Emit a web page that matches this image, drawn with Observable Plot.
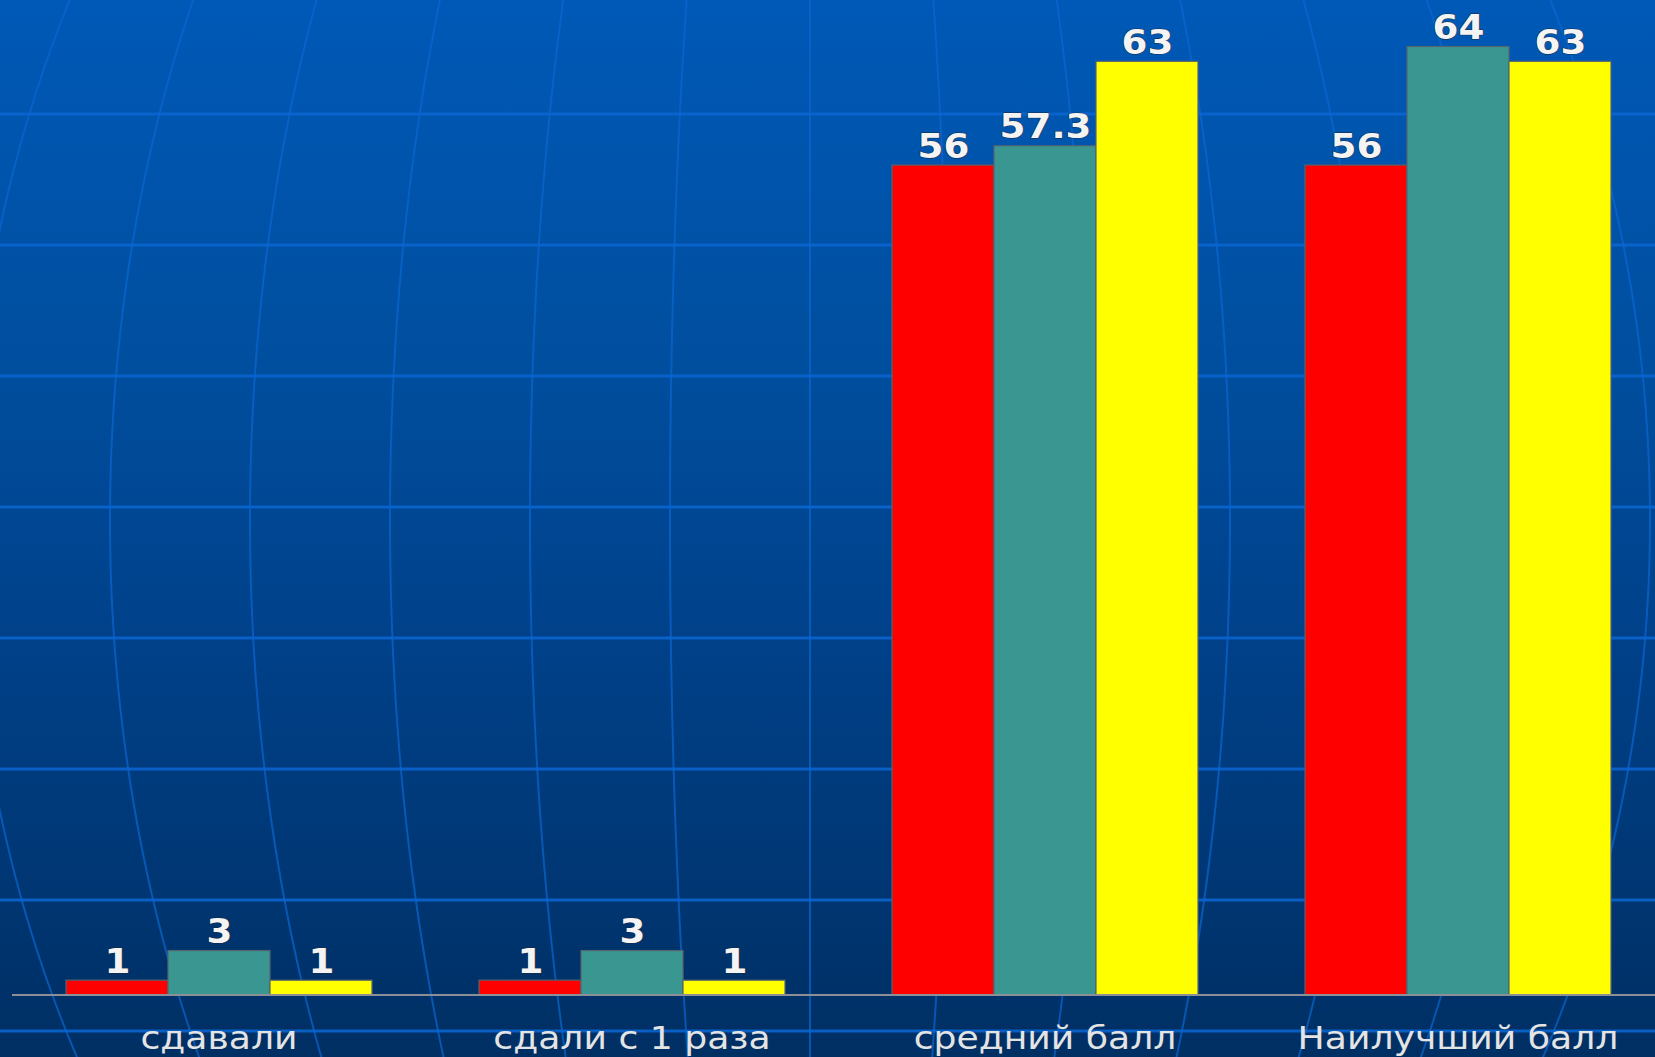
<!DOCTYPE html>
<html>
<head>
<meta charset="utf-8">
<script src="https://cdn.jsdelivr.net/npm/d3@7"></script>
<script src="https://cdn.jsdelivr.net/npm/@observablehq/plot@0.6"></script>
<style>
  html, body { margin: 0; padding: 0; }
  body { width: 1655px; height: 1057px; overflow: hidden; }
  #wrap {
    position: relative; width: 1655px; height: 1057px;
    background: linear-gradient(to bottom, #0059b7 0%, #004e9e 35%, #00418a 60%, #002f63 100%);
  }
  #bg, #chart { position: absolute; left: 0; top: 0; }
  #chart svg { display: block; overflow: visible; }
</style>
</head>
<body>
<div id="wrap">
  <svg id="bg" width="1655" height="1057"></svg>
  <div id="chart"></div>
</div>
<script>
// ---- data ----
const categories = ["сдавали", "сдали с 1 раза", "средний балл", "Наилучший балл"];
const seriesNames = ["ряд 1", "ряд 2", "ряд 3"];
const seriesColors = ["#ff0000", "#3a9690", "#ffff00"];
const redValues = [1, 1, 56, 56];
const tealValues = [3, 3, 57.3, 64];
const yellowValues = [1, 1, 63, 63];

const seriesValues = [redValues, tealValues, yellowValues];
const data = [];
categories.forEach((c, i) => {
  seriesNames.forEach((s, j) => {
    data.push({category: c, series: s, value: seriesValues[j][i]});
  });
});

// ---- decorative globe background ----
const W = 1655, H = 1057;
const bg = d3.select("#bg");
const parallels = [114, 245, 376, 507, 638, 769, 900, 1031];
bg.selectAll("line.par").data(parallels).join("line")
  .attr("x1", 0).attr("x2", W).attr("y1", d => d).attr("y2", d => d)
  .attr("stroke", "#0a66d2").attr("stroke-width", 3).attr("stroke-opacity", 0.85);
const cx = 810, cy = 520, R = 1100;
const meridianOffsets = d3.range(-6, 7).map(k => k * 140);
const line = d3.line();
bg.selectAll("path.mer").data(meridianOffsets).join("path")
  .attr("d", s => line(d3.range(-20, H + 21, 10).map(y => {
    const t = (y - cy) / R;
    return [cx + s * Math.sqrt(Math.max(0, 1 - t * t)), y];
  })))
  .attr("fill", "none").attr("stroke", "#0a66d2").attr("stroke-width", 2).attr("stroke-opacity", 0.7);

// ---- chart ----
const font = "'DejaVu Sans', Verdana, sans-serif";
const chart = Plot.plot({
  width: W,
  height: H,
  marginLeft: 11,
  marginRight: -10,
  marginTop: 2,
  marginBottom: 62,
  style: {background: "transparent", fontFamily: font, color: "#e8e8e8"},
  fx: {domain: categories, paddingInner: 0.257, paddingOuter: 0.128, axis: null, label: null},
  x: {domain: seriesNames, padding: 0, axis: null},
  y: {domain: [0, 67], axis: null},
  color: {domain: seriesNames, range: seriesColors},
  marks: [
    Plot.barY(data, {fx: "category", x: "series", y: "value", fill: "series",
      stroke: "#55636e", strokeWidth: 1.2}),
    Plot.text(data, {fx: "category", x: "series", y: "value", text: d => String(d.value),
      dy: -8, lineAnchor: "bottom", fill: "#f4f4f4", fontWeight: "bold", fontSize: 33,
      fontFamily: font, stroke: "#1a2a40", strokeWidth: 1, paintOrder: "stroke"}),
    Plot.axisFx({anchor: "bottom", tickSize: 0, tickPadding: 31, fontSize: 32,
      fill: "#e4e4e4", fontFamily: font, label: null})
  ]
});
document.getElementById("chart").appendChild(chart);

// widen the text horizontally around its own centre, as in the reference rendering
d3.select(chart).selectAll("text").each(function() {
  const b = this.getBBox();
  const c = b.x + b.width / 2;
  const prev = this.getAttribute("transform") || "";
  this.setAttribute("transform", `${prev} translate(${c},0) scale(1.13,1) translate(${-c},0)`);
});

// baseline across the full width, positioned by the y scale
const y0 = chart.scale("y").apply(0);
d3.select(chart).append("line")
  .attr("x1", 12).attr("x2", W).attr("y1", y0).attr("y2", y0)
  .attr("stroke", "#8c9096").attr("stroke-width", 2);
</script>
</body>
</html>
